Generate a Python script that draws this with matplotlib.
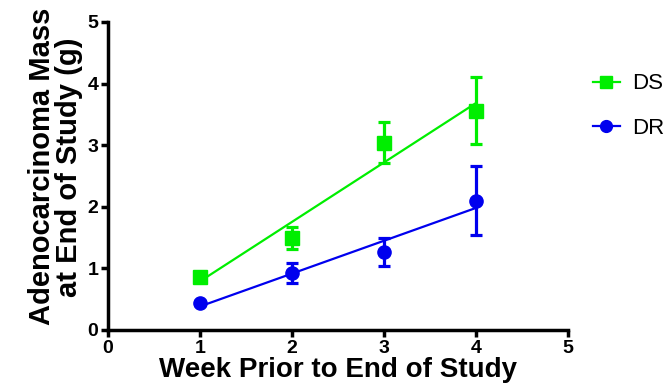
import numpy as np
import matplotlib
matplotlib.use("Agg")
from matplotlib import pyplot as plt

plt.rcParams['font.family'] = ['Liberation Sans', 'DejaVu Sans']

# data
weeks = [1, 2, 3, 4]
ds_mean = [0.86, 1.49, 3.04, 3.56]
ds_err = [0.07, 0.18, 0.33, 0.54]
dr_mean = [0.44, 0.92, 1.27, 2.10]
dr_err = [0.03, 0.16, 0.23, 0.56]

green = '#00ee00'
blue = '#0000ee'

fig = plt.figure(figsize=(6.7, 3.91), dpi=100)
ax = fig.add_axes([108/670, 1 - 330/391, 460/670, 308/391])

xfit = np.array([1, 4])
handles = []
for mean, err, col, mk, lab in [(ds_mean, ds_err, green, 's', 'DS'),
                                (dr_mean, dr_err, blue, 'o', 'DR')]:
    k, b = np.polyfit(weeks, mean, 1)
    ax.plot(xfit, k*xfit + b, color=col, lw=1.6, zorder=2)
    ax.errorbar(weeks, mean, yerr=err, fmt=mk, color=col, ms=9.5,
                elinewidth=2.3, capsize=4.5, capthick=2.3, zorder=3)
    # legend proxy
    h, = ax.plot([], [], color=col, marker=mk, ms=8.5, lw=1.6, label=lab)
    handles.append(h)

ax.set_xlim(0, 5)
ax.set_ylim(0, 5)
ax.set_xticks(range(6))
ax.set_yticks(range(6))
for s in ['top', 'right']:
    ax.spines[s].set_visible(False)
for s in ['left', 'bottom']:
    ax.spines[s].set_linewidth(2.5)
ax.tick_params(width=2.5, length=5, labelsize=14, pad=2)
for t in ax.get_xticklabels() + ax.get_yticklabels():
    t.set_fontweight('bold')

ax.set_xlabel('Week Prior to End of Study', fontsize=20, fontweight='bold', labelpad=0)
ax.set_ylabel('Adenocarcinoma Mass\nat End of Study (g)', fontsize=21,
              fontweight='bold', labelpad=3, linespacing=0.95)
ax.yaxis.label.set_y(0.53)

fig.legend(handles=handles, loc='center left', bbox_to_anchor=(593/670, 1 - 106/391),
           frameon=False, fontsize=16, handlelength=1.2, labelspacing=1.05,
           handletextpad=0.55, borderpad=0, borderaxespad=0)

fig.savefig('out.png', dpi=100)
